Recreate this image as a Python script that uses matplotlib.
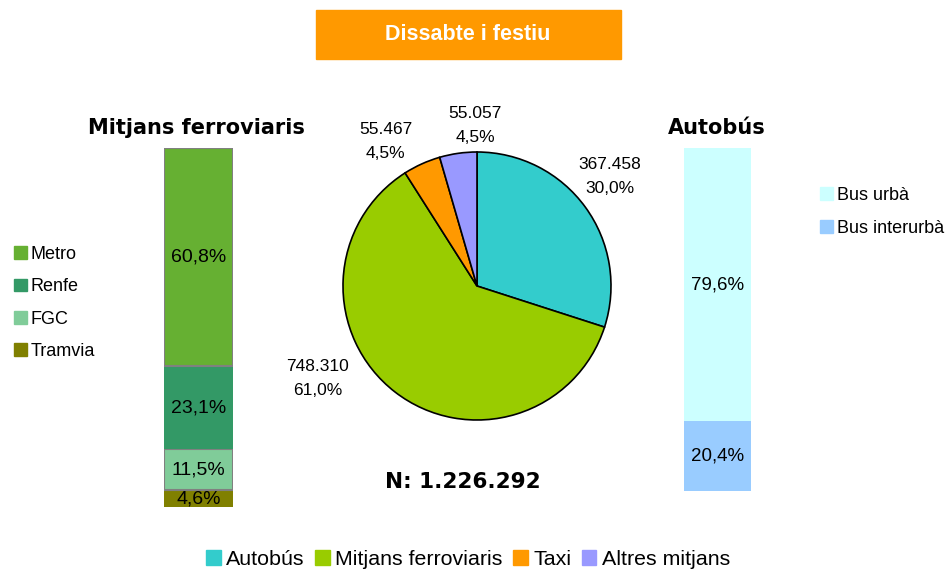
import matplotlib
matplotlib.use("Agg")
import matplotlib.pyplot as plt
from matplotlib.patches import Patch, Rectangle

# pie: trips by mode, saturday and holidays
modes = ["Autobús", "Mitjans ferroviaris", "Taxi", "Altres mitjans"]
trips = [367458, 748310, 55467, 55057]
shares = [30.0, 61.0, 4.5, 4.5]
mode_colors = ["#33CCCC", "#99CC00", "#FF9900", "#9999FF"]
total = "1.226.292"

# left stacked bar (bottom to top)
rail = ["Tramvia", "FGC", "Renfe", "Metro"]
rail_pct = [4.6, 11.5, 23.1, 60.8]
rail_colors = ["#808000", "#80CC99", "#339966", "#66B032"]
rail_edges = ["none", "#808080", "none", "#808080"]

# right stacked bar (bottom to top)
bus = ["Bus interurbà", "Bus urbà"]
bus_pct = [20.4, 79.6]
bus_colors = ["#99CCFF", "#CCFFFF"]

# where the pie labels sit, in units of pie radius
label_xy = [(0.99, 0.82), (-1.19, -0.69), (-0.68, 1.08), (-0.015, 1.20)]

W, H = 950, 571
plt.rcParams['font.family'] = ['Liberation Sans', 'DejaVu Sans']
fig = plt.figure(figsize=(W / 100, H / 100), dpi=100)


def fbox(x0, y0, x1, y1):
    # pixel box (top-left origin) -> figure fraction rect
    return [x0 / W, 1 - y1 / H, (x1 - x0) / W, (y1 - y0) / H]


def fmt(v):
    return f"{v:,}".replace(",", ".")


def pct(v):
    return f"{v:.1f}%".replace(".", ",")


# title banner
fig.patches.append(Rectangle((316 / W, 1 - 59 / H), 305 / W, 49 / H,
                             transform=fig.transFigure, color="#FF9900", zorder=0))
fig.text(468 / W, 1 - 34 / H, "Dissabte i festiu", color="white", fontsize=15.5,
         fontweight="bold", ha="center", va="center")

# pie
cx, cy, R = 477, 286, 134
ax_pie = fig.add_axes(fbox(cx - 1.5 * R, cy - 1.5 * R, cx + 1.5 * R, cy + 1.5 * R))
ax_pie.pie(trips, colors=mode_colors, startangle=90, counterclock=False, radius=1,
           wedgeprops=dict(edgecolor="black", linewidth=1.2))
for v, s, (lx, ly) in zip(trips, shares, label_xy):
    ax_pie.text(lx, ly, f"{fmt(v)}\n{pct(s)}", ha="center", va="center",
                fontsize=12.5, linespacing=1.75)
ax_pie.set_xlim(-1.5, 1.5)
ax_pie.set_ylim(-1.5, 1.5)
ax_pie.axis("off")

fig.text(463 / W, 1 - 482 / H, f"N: {total}", fontsize=15.5, fontweight="bold",
         family="DejaVu Sans", ha="center", va="center")

# left bar
ax_l = fig.add_axes(fbox(164, 148, 233, 507))
bottom = 0
for name, v, c, ec in zip(rail, rail_pct, rail_colors, rail_edges):
    ax_l.bar(0, v, bottom=bottom, width=1, color=c, edgecolor=ec, linewidth=1.5)
    ax_l.text(0, bottom + v / 2, pct(v), ha="center", va="center", fontsize=14)
    bottom += v
ax_l.set_xlim(-0.5, 0.5)
ax_l.set_ylim(0, bottom)
ax_l.axis("off")
fig.text(196 / W, 1 - 128 / H, "Mitjans ferroviaris", fontsize=15, fontweight="bold",
         family="DejaVu Sans", ha="center", va="center")

# right bar
ax_r = fig.add_axes(fbox(684, 148, 751, 491))
bottom = 0
for name, v, c in zip(bus, bus_pct, bus_colors):
    ax_r.bar(0, v, bottom=bottom, width=1, color=c, edgecolor="none")
    ax_r.text(0, bottom + v / 2, pct(v), ha="center", va="center", fontsize=13.5)
    bottom += v
ax_r.set_xlim(-0.5, 0.5)
ax_r.set_ylim(0, bottom)
ax_r.axis("off")
fig.text(717 / W, 1 - 128 / H, "Autobús", fontsize=15, fontweight="bold",
         family="DejaVu Sans", ha="center", va="center")

# legends
leg_kw = dict(frameon=False, borderpad=0, borderaxespad=0, handlelength=0.72,
              handleheight=0.72, handletextpad=0.2, loc="upper left")
fig.legend([Patch(color=c) for c in rail_colors[::-1]], rail[::-1],
           bbox_to_anchor=(14 / W, 1 - 246 / H), fontsize=13, labelspacing=0.85,
           **leg_kw)
fig.legend([Patch(color=c) for c in bus_colors[::-1]], bus[::-1],
           bbox_to_anchor=(820 / W, 1 - 187 / H), fontsize=13, labelspacing=0.88,
           **leg_kw)
bottom_kw = dict(leg_kw, handlelength=0.68, handleheight=0.68, handletextpad=0.27)
fig.legend([Patch(color=c) for c in mode_colors], modes, ncol=4,
           bbox_to_anchor=(206 / W, 1 - 550 / H), fontsize=15.4, columnspacing=0.48,
           **bottom_kw)

fig.savefig("out.png", dpi=100)
plt.close(fig)
